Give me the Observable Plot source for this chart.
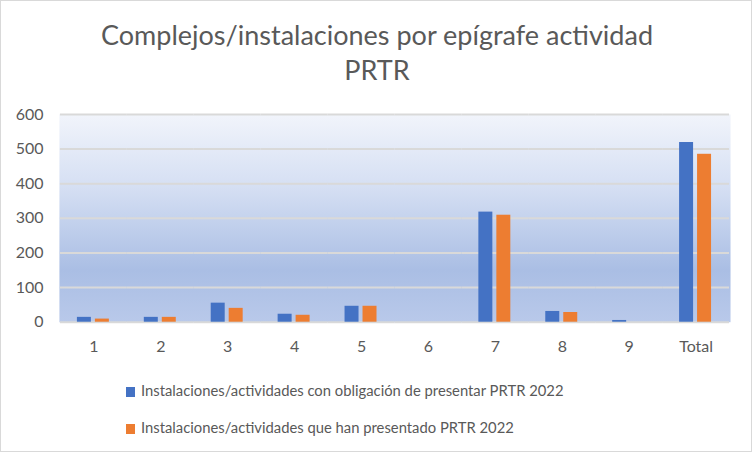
<!DOCTYPE html>
<html>
<head>
<meta charset="utf-8">
<script src="https://cdn.jsdelivr.net/npm/d3@7"></script>
<script src="https://cdn.jsdelivr.net/npm/@observablehq/plot@0.6"></script>
<style>
  html, body { margin: 0; padding: 0; background: #fff; }
  #wrap { position: relative; width: 752px; height: 452px; box-sizing: border-box; border: 1px solid #d9d9d9; overflow: hidden; font-family: Lato, "Open Sans", sans-serif; color: #595959; }
  #title { position: absolute; left: 0; top: 16px; width: 752px; text-align: center; font-size: 27px; line-height: 35px; }
  #chart { position: absolute; left: -1px; top: 94px; }
  .leg { position: absolute; left: 125px; font-size: 14.8px; line-height: 18px; white-space: nowrap; }
  .sw { display: inline-block; width: 9px; height: 10px; margin-right: 6px; vertical-align: -1px; }
</style>
</head>
<body>
<svg width="0" height="0" style="position:absolute">
  <defs>
    <linearGradient id="bg" x1="0" y1="0" x2="0" y2="1">
      <stop offset="0%" stop-color="#f1f4fb"/>
      <stop offset="35%" stop-color="#d5dff3"/>
      <stop offset="75%" stop-color="#aabee4"/>
      <stop offset="100%" stop-color="#b9c9ea"/>
    </linearGradient>
  </defs>
</svg>
<div id="wrap">
  <div id="title">Complejos/instalaciones por epígrafe actividad<br>PRTR</div>
  <div id="chart"></div>
  <div id="legend"></div>
</div>
<script>
const categories = ["1", "2", "3", "4", "5", "6", "7", "8", "9", "Total"];
const obligacion = [14, 14, 55, 23, 46, 0, 318, 31, 5, 519];
const presentado = [9, 14, 40, 20, 46, 0, 309, 28, 0, 485];
const seriesNames = [
  "Instalaciones/actividades con obligación de presentar PRTR 2022",
  "Instalaciones/actividades que han presentado PRTR 2022"
];
const seriesColors = ["#4472C4", "#ED7D31"];
const yTicks = [0, 100, 200, 300, 400, 500, 600];

const data = [];
categories.forEach((c, i) => {
  data.push({cat: c, series: seriesNames[0], value: obligacion[i]});
  data.push({cat: c, series: seriesNames[1], value: presentado[i]});
});

const chart = Plot.plot({
  width: 752,
  height: 270,
  marginTop: 19,
  marginBottom: 43,
  marginLeft: 55,
  marginRight: 18,
  style: {fontFamily: "Lato, 'Open Sans', sans-serif", fontSize: "16px", color: "#595959", background: "transparent"},
  fx: {domain: categories, padding: 0, label: null, tickSize: 0, tickPadding: 18, axis: "bottom"},
  x: {domain: seriesNames, axis: null, paddingInner: 0.21, paddingOuter: 0.87},
  y: {domain: [0, 600], ticks: yTicks, tickSize: 0, tickPadding: 17, label: null},
  color: {domain: seriesNames, range: seriesColors},
  marks: [
    Plot.frame({fill: "url(#bg)", stroke: "none", insetLeft: -1, insetRight: -1}),
    Plot.ruleY(yTicks, {stroke: "#d9d9d9", strokeWidth: 2}),
    Plot.barY(data, {fx: "cat", x: "series", y: "value", fill: "series"})
  ]
});
document.getElementById("chart").appendChild(chart);

const legend = document.getElementById("legend");
seriesNames.forEach((name, i) => {
  const d = document.createElement("div");
  d.className = "leg";
  d.style.top = (i === 0 ? 380 : 417) + "px";
  const sw = document.createElement("span");
  sw.className = "sw";
  sw.style.background = seriesColors[i];
  d.appendChild(sw);
  d.appendChild(document.createTextNode(name));
  legend.appendChild(d);
});
</script>
</body>
</html>
